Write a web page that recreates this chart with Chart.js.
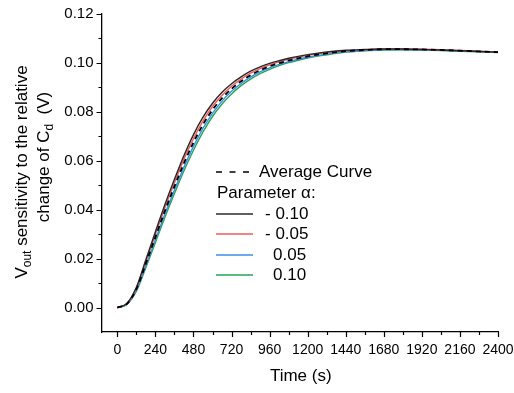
<!DOCTYPE html>
<html>
<head>
<meta charset="utf-8">
<script src="https://cdn.jsdelivr.net/npm/chart.js@4/dist/chart.umd.min.js"></script>
<style>
html,body{margin:0;padding:0;background:#fff;}
#wrap{width:514px;height:393px;position:relative;}
</style>
</head>
<body>
<div id="wrap"><canvas id="c" width="514" height="393"></canvas></div>
<script>
// ---- data ----
const times = [0,60,120,180,240,300,360,420,480,540,600,660,720,780,840,900,960,1020,1080,1140,1200,1320,1440,1560,1680,1800,1920,2040,2160,2280,2400];
const averageCurve = [0,0.0015,0.0075,0.0180,0.0288,0.0395,0.0495,0.0590,0.0675,0.0748,0.0808,0.0856,0.0894,0.0925,0.0950,0.0970,0.0986,0.0999,0.1010,0.1019,0.1027,0.1039,0.1048,0.1053,0.1056,0.1056,0.1055,0.1053,0.1050,0.1047,0.1044];
const alphaMinus010 = [0,0.0017,0.0083,0.0196,0.0310,0.0421,0.0524,0.0621,0.0707,0.0778,0.0835,0.0880,0.0915,0.0943,0.0966,0.0984,0.0998,0.1009,0.1019,0.1027,0.1034,0.1045,0.1052,0.1055,0.1057,0.1057,0.1055,0.1053,0.1050,0.1047,0.1044];
const alphaMinus005 = [0,0.0016,0.0079,0.0188,0.0299,0.0408,0.0510,0.0606,0.0691,0.0763,0.0822,0.0868,0.0905,0.0934,0.0958,0.0977,0.0992,0.1004,0.1015,0.1023,0.1031,0.1042,0.1050,0.1054,0.1057,0.1057,0.1056,0.1054,0.1051,0.1048,0.1045];
const alphaPlus005 = [0,0.0014,0.0071,0.0172,0.0277,0.0382,0.0480,0.0574,0.0659,0.0733,0.0794,0.0844,0.0884,0.0916,0.0942,0.0963,0.0980,0.0994,0.1005,0.1015,0.1023,0.1036,0.1045,0.1051,0.1054,0.1055,0.1054,0.1052,0.1049,0.1046,0.1043];
const alphaPlus010 = [0,0.0013,0.0067,0.0164,0.0266,0.0369,0.0466,0.0559,0.0643,0.0718,0.0781,0.0832,0.0873,0.0907,0.0934,0.0956,0.0974,0.0989,0.1001,0.1011,0.1020,0.1033,0.1044,0.1050,0.1053,0.1054,0.1053,0.1051,0.1048,0.1045,0.1042];
const seriesLabels = ['Average Curve','- 0.10','- 0.05','0.05','0.10'];
const xTickValues = [0,240,480,720,960,1200,1440,1680,1920,2160,2400];
const xMinorValues = [120,360,600,840,1080,1320,1560,1800,2040,2280];
const yTickValues = [0,0.02,0.04,0.06,0.08,0.10,0.12];
const yMinorValues = [0.01,0.03,0.05,0.07,0.09,0.11];
const legendTitle = 'Parameter \u03B1:';
const xTitle = 'Time (s)';

// ---- styles ----
const FONT = "'Liberation Sans', Arial, sans-serif";
const colors = ['#000000','#2a2a2a','#f05a5a','#3c8ce6','#22a655'];
const toPts = arr => times.map((t,i)=>({x:t,y:arr[i]}));
const seriesData = [averageCurve, alphaMinus010, alphaMinus005, alphaPlus005, alphaPlus010];

const datasets = seriesData.map((arr,i)=>({
  label: seriesLabels[i],
  data: toPts(arr),
  borderColor: colors[i],
  borderWidth: i===0 ? 1.8 : 1.4,
  borderDash: i===0 ? [5,4] : [],
  pointRadius: 0,
  fill: false,
  cubicInterpolationMode: 'monotone',
  order: i
}));

const decor = {
  id: 'decor',
  afterDraw(chart) {
    const ctx = chart.ctx, xs = chart.scales.x, ys = chart.scales.y, a = chart.chartArea;
    ctx.save();
    ctx.strokeStyle = '#000'; ctx.lineWidth = 1.2;
    ctx.beginPath();
    xTickValues.forEach(v=>{const p=Math.round(xs.getPixelForValue(v))+0.5; ctx.moveTo(p,a.bottom); ctx.lineTo(p,a.bottom+5);});
    xMinorValues.forEach(v=>{const p=Math.round(xs.getPixelForValue(v))+0.5; ctx.moveTo(p,a.bottom); ctx.lineTo(p,a.bottom+3);});
    yTickValues.forEach(v=>{const p=Math.round(ys.getPixelForValue(v))+0.5; ctx.moveTo(a.left,p); ctx.lineTo(a.left-5,p);});
    yMinorValues.forEach(v=>{const p=Math.round(ys.getPixelForValue(v))+0.5; ctx.moveTo(a.left,p); ctx.lineTo(a.left-3,p);});
    ctx.stroke();

    // x title
    ctx.fillStyle = '#000';
    ctx.font = '17px ' + FONT;
    ctx.textAlign = 'center'; ctx.textBaseline = 'middle';
    ctx.fillText(xTitle, (a.left + a.right)/2 + 1, 376);

    // y title (rotated, with subscripts)
    const drawRich = (parts, cx, cy) => {
      let total = 0;
      const fs = 17, ss = 12;
      parts.forEach(p=>{ ctx.font = (p[1]?ss:fs)+'px '+FONT; total += ctx.measureText(p[0]).width; });
      ctx.save();
      ctx.translate(cx, cy); ctx.rotate(-Math.PI/2);
      ctx.textAlign = 'left'; ctx.textBaseline = 'alphabetic';
      let x = -total/2;
      parts.forEach(p=>{
        ctx.font = (p[1]?ss:fs)+'px '+FONT;
        ctx.fillText(p[0], x, p[1] ? 4 : 0);
        x += ctx.measureText(p[0]).width;
      });
      ctx.restore();
    };
    drawRich([['V',0],['out',1],[' sensitivity to the relative',0]], 27, 172);
    drawRich([['change of C',0],['d',1],['  (V)',0]], 49, 157);

    // legend
    const lx0 = 216, lx1 = 253;
    ctx.font = '17px ' + FONT;
    ctx.textBaseline = 'middle'; ctx.textAlign = 'left';
    ctx.save();
    ctx.strokeStyle = colors[0]; ctx.lineWidth = 1.6; ctx.setLineDash([6,7.5]);
    ctx.beginPath(); ctx.moveTo(lx0, 172); ctx.lineTo(lx1, 172); ctx.stroke();
    ctx.restore();
    ctx.fillText(seriesLabels[0], 259, 172);
    ctx.fillText(legendTitle, 217, 193);
    const rows = [214, 234, 255, 275];
    const textX = [265, 265, 273, 273];
    for (let i=1;i<5;i++) {
      ctx.strokeStyle = colors[i]; ctx.lineWidth = 1.6;
      ctx.beginPath(); ctx.moveTo(lx0, rows[i-1]); ctx.lineTo(lx1, rows[i-1]); ctx.stroke();
      ctx.fillText(seriesLabels[i], textX[i-1], rows[i-1]);
    }
    ctx.restore();
  }
};

new Chart(document.getElementById('c'), {
  type: 'line',
  data: { datasets },
  options: {
    responsive: false,
    animation: false,
    layout: { padding: { left: 0, top: 14, right: 16, bottom: 0 } },
    plugins: { legend: { display: false }, tooltip: { enabled: false }, title: { display: false } },
    scales: {
      x: {
        type: 'linear', min: -100, max: 2400,
        afterBuildTicks: s => { s.ticks = xTickValues.map(v=>({value:v})); },
        afterFit: s => { s.height = 61; s.paddingLeft = 0; s.paddingRight = 0; },
        grid: { display: false, drawTicks: false, tickLength: 0 },
        border: { display: true, color: '#000', width: 1.3 },
        ticks: { color: '#000', font: { family: FONT, size: 14 }, padding: 10, maxRotation: 0, autoSkip: false, callback: v => String(v) }
      },
      y: {
        type: 'linear', min: -0.01, max: 0.12,
        afterBuildTicks: s => { s.ticks = yTickValues.map(v=>({value:v})); },
        afterFit: s => { s.width = 101.5; s.paddingTop = 0; s.paddingBottom = 0; },
        grid: { display: false, drawTicks: false, tickLength: 0 },
        border: { display: true, color: '#000', width: 1.3 },
        ticks: { color: '#000', font: { family: FONT, size: 15 }, padding: 8, autoSkip: false, callback: v => v.toFixed(2) }
      }
    }
  },
  plugins: [decor]
});
</script>
</body>
</html>
